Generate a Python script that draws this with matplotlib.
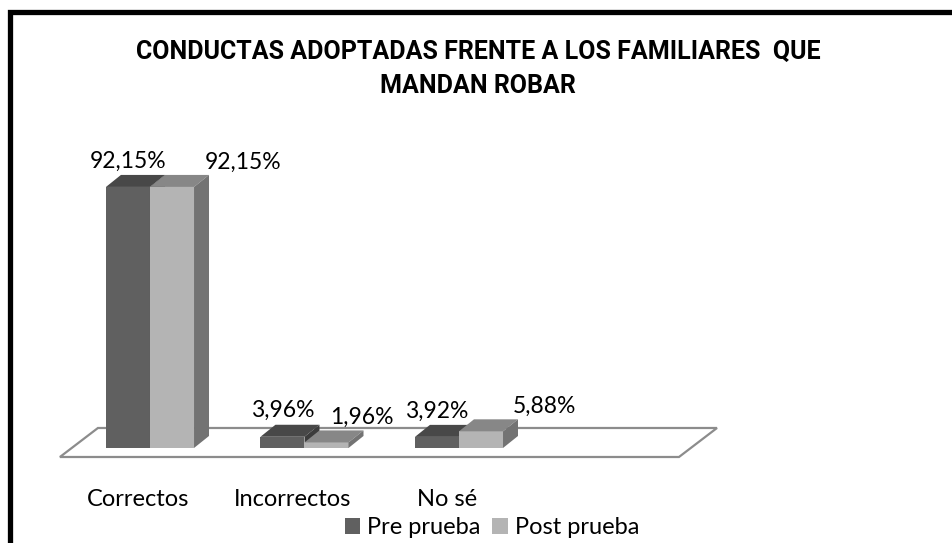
import matplotlib
matplotlib.use("Agg")
import matplotlib.pyplot as plt
from matplotlib.patches import Polygon, Rectangle, Patch

# datos
categorias = ["Correctos", "Incorrectos", "No sé"]
pre_prueba = [92.15, 3.96, 3.92]
post_prueba = [92.15, 1.96, 5.88]
etiquetas_pre = ["92,15%", "3,96%", "3,92%"]
etiquetas_post = ["92,15%", "1,96%", "5,88%"]
titulo = "CONDUCTAS ADOPTADAS FRENTE A LOS FAMILIARES  QUE\nMANDAN ROBAR"

# colores (cara frontal, cara superior, cara lateral)
col_pre = ("#606060", "#484848", "#3c3c3c")
col_post = ("#b4b4b4", "#878787", "#737373")

W, H = 953, 543
fig = plt.figure(figsize=(W / 100, H / 100), dpi=100)
fig.patch.set_facecolor("white")

# marco negro (recortado a la derecha y abajo)
fig.patches.append(Rectangle((10 / W, -0.2), 1.2, (H - 12) / H + 0.2,
                             transform=fig.transFigure, fill=False,
                             edgecolor="black", linewidth=3.8))

# ejes: escala 154.5 px por categoria, 2.833 px por punto porcentual
x0, x1 = -0.712, 3.819
y0, y1 = -7.77, 112.25
ax = fig.add_axes([40 / W, 73 / H, 700 / W, 340 / H])
ax.set_xlim(x0, x1)
ax.set_ylim(y0, y1)
ax.axis("off")

ancho = 0.285          # ancho de cada barra
px, py = 0.097, 4.24   # profundidad 3D

# suelo
suelo = [(-0.583, -3.18), (3.424, -3.18), (3.67, 7.06), (-0.337, 7.06)]
ax.add_patch(Polygon(suelo, closed=True, facecolor="white",
                     edgecolor="#8c8c8c", linewidth=1.6, zorder=1))


def barra3d(x, h, cols):
    frente, arriba, lado = cols
    ax.add_patch(Polygon([(x, 0), (x + ancho, 0), (x + ancho, h), (x, h)],
                         facecolor=frente, edgecolor="none", zorder=3))
    ax.add_patch(Polygon([(x, h), (x + ancho, h), (x + ancho + px, h + py), (x + px, h + py)],
                         facecolor=arriba, edgecolor="none", zorder=3))
    ax.add_patch(Polygon([(x + ancho, 0), (x + ancho + px, py), (x + ancho + px, h + py), (x + ancho, h)],
                         facecolor=lado, edgecolor="none", zorder=3))


desp_post = [0.46, 0.23, 0.41]  # Excel separa las etiquetas del post

fuente = ["Lato", "DejaVu Sans"]
for i, cat in enumerate(categorias):
    barra3d(i - ancho, pre_prueba[i], col_pre)
    barra3d(i, post_prueba[i], col_post)
    ax.annotate(etiquetas_pre[i], (i - ancho / 2, pre_prueba[i]), xytext=(0, 26),
                textcoords="offset pixels", ha="center", va="center",
                fontsize=16.5, family=fuente, zorder=5)
    ax.annotate(etiquetas_post[i], (i + ancho / 2 + desp_post[i], post_prueba[i]),
                xytext=(0, 25), textcoords="offset pixels", ha="center",
                va="center", fontsize=16.5, family=fuente, zorder=5)
    ax.annotate(cat, (i, 0), xytext=(-12, -52), textcoords="offset pixels",
                ha="center", va="center", fontsize=17, family=fuente)

fig.text(478 / W, 1 - 69 / H, titulo, ha="center", va="center",
         fontsize=18, fontweight="bold", linespacing=1.55,
         family=["Roboto", "DejaVu Sans"])

manejadores = [Patch(facecolor=col_pre[0]), Patch(facecolor=col_post[0])]
fig.legend(manejadores, ["Pre prueba", "Post prueba"], loc="center",
           bbox_to_anchor=(492 / W, 1 - 528 / H), ncol=2, frameon=False,
           prop={"family": fuente, "size": 17}, handlelength=0.65,
           handleheight=0.65, handletextpad=0.3, columnspacing=0.5,
           borderpad=0)

fig.savefig("out.png", dpi=100)
